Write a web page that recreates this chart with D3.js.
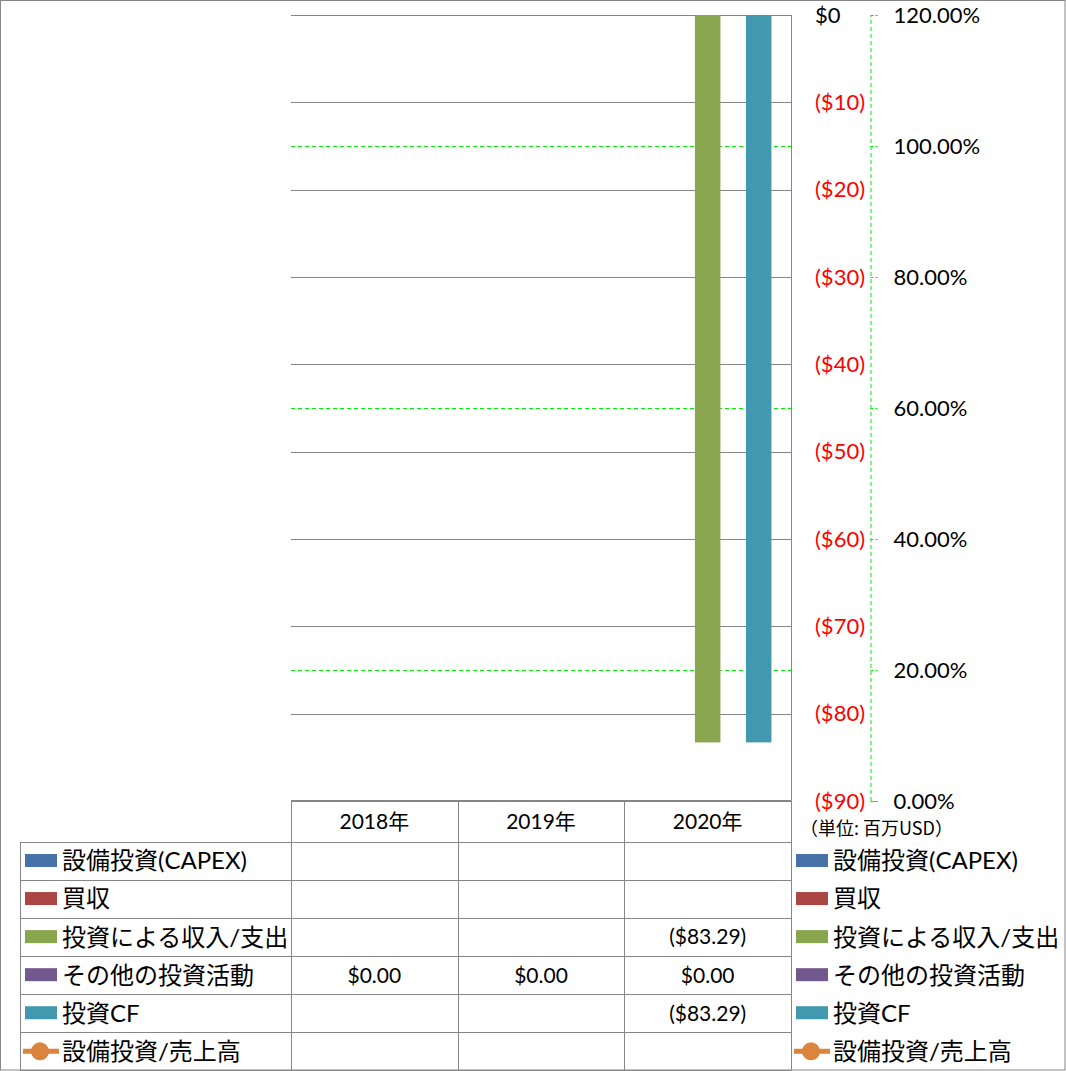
<!DOCTYPE html>
<html>
<head>
<meta charset="utf-8">
<script src="https://cdn.jsdelivr.net/npm/d3@7"></script>
<style>
  body { margin: 0; background: #fff; }
  svg text { font-family: Lato, "Noto Sans CJK JP", sans-serif; }
</style>
</head>
<body>
<div id="chart"></div>
<script>
// data
const categories = ["2018年", "2019年", "2020年"];
const capex = [null, null, null];
const acquisitions = [null, null, null];
const investIncome = [null, null, -83.29];
const otherInvest = [0, 0, 0];
const investCF = [null, null, -83.29];
const capexRatio = [null, null, null];

const seriesNames = ["設備投資(CAPEX)", "買収", "投資による収入/支出", "その他の投資活動", "投資CF", "設備投資/売上高"];
const seriesColors = ["#4672A8", "#AA4643", "#89A54E", "#71588F", "#4198AF", "#DB843D"];

const usdTicks = [0, -10, -20, -30, -40, -50, -60, -70, -80, -90];
const pctTicks = [0, 0.2, 0.4, 0.6, 0.8, 1.0, 1.2];
const unitLabel = "（単位: 百万USD）";

window.onload = function() {
    const W = 1066, H = 1071;
    const plot = { left: 291, right: 791, top: 15, bottom: 801 };
    const rowH = 38.05;
    const headerTop = 800.5;
    const headerBottom = 842;

    const barSeries = [capex, acquisitions, investIncome, otherInvest, investCF];

    const svg = d3.select("#chart").append("svg")
        .attr("width", W)
        .attr("height", H);

    const x = d3.scaleBand()
        .domain(categories)
        .range([plot.left, plot.right]);

    const xs = d3.scaleBand()
        .domain(d3.range(barSeries.length))
        .range([0, x.bandwidth()])
        .paddingOuter(0.768);

    const y = d3.scaleLinear()
        .domain([-90, 0])
        .range([plot.bottom, plot.top]);

    const y2 = d3.scaleLinear()
        .domain([0, 1.2])
        .range([plot.bottom, plot.top]);

    // secondary gridlines (green dashed) beneath
    svg.append("g")
        .selectAll("line")
        .data(pctTicks)
        .enter().append("line")
        .attr("x1", plot.left).attr("x2", plot.right)
        .attr("y1", d => Math.round(y2(d)) + 0.5)
        .attr("y2", d => Math.round(y2(d)) + 0.5)
        .attr("stroke", "#00ee00")
        .attr("stroke-dasharray", "4,3");

    // primary gridlines
    svg.append("g")
        .selectAll("line")
        .data(usdTicks)
        .enter().append("line")
        .attr("x1", plot.left).attr("x2", plot.right)
        .attr("y1", d => Math.round(y(d)) + 0.5)
        .attr("y2", d => Math.round(y(d)) + 0.5)
        .attr("stroke", "#868686");

    // bars
    barSeries.forEach((vals, si) => {
        svg.append("g")
            .attr("fill", seriesColors[si])
            .selectAll("rect")
            .data(vals.map((v, i) => ({ cat: categories[i], v: v })).filter(d => d.v != null))
            .enter().append("rect")
            .attr("x", d => x(d.cat) + xs(si))
            .attr("width", xs.bandwidth())
            .attr("y", d => y(Math.max(0, d.v)))
            .attr("height", d => Math.abs(y(d.v) - y(0)));
    });

    // capex / sales line (no values)
    const line = d3.line()
        .defined(d => d.v != null)
        .x(d => x(d.cat) + x.bandwidth() / 2)
        .y(d => y2(d.v));
    svg.append("path")
        .datum(capexRatio.map((v, i) => ({ cat: categories[i], v: v })))
        .attr("fill", "none")
        .attr("stroke", seriesColors[5])
        .attr("stroke-width", 5)
        .attr("d", line);

    // plot right border
    svg.append("line")
        .attr("x1", plot.right + 0.5).attr("x2", plot.right + 0.5)
        .attr("y1", plot.top).attr("y2", headerTop)
        .attr("stroke", "#868686");

    // primary axis ($)
    const usdFmt = d => d < 0 ? `($${-d})` : `$${d}`;
    const ax1 = svg.append("g")
        .attr("transform", `translate(${plot.right},0)`)
        .call(d3.axisRight(y).tickValues(usdTicks).tickSize(0).tickPadding(24).tickFormat(usdFmt));
    ax1.select(".domain").remove();
    ax1.selectAll("text")
        .style("font-size", "22px")
        .attr("fill", d => d < 0 ? "#ff0000" : "#000");

    // secondary axis (%)
    const ax2 = svg.append("g")
        .attr("transform", `translate(870.5,0)`)
        .call(d3.axisRight(y2).tickValues(pctTicks).tickSize(7).tickPadding(16)
            .tickFormat(d => (d * 100).toFixed(2) + "%"));
    ax2.select(".domain")
        .attr("stroke", "#00ee00")
        .attr("stroke-dasharray", "4,3");
    ax2.selectAll(".tick line")
        .attr("stroke", "#00ee00")
        .attr("stroke-dasharray", "3,2");
    ax2.selectAll("text")
        .style("font-size", "22px")
        .attr("fill", "#000");

    // unit label
    svg.append("text")
        .attr("x", 800)
        .attr("y", 829)
        .attr("dy", "0.35em")
        .style("font-size", "18px")
        .style("font-family", "'Noto Sans CJK JP'")
        .text(unitLabel);

    // data table
    const table = svg.append("g").attr("stroke", "#868686").attr("fill", "none");
    const rowY = i => headerBottom + i * rowH;
    const tableBottom = rowY(seriesNames.length);

    table.append("line")
        .attr("x1", plot.left).attr("x2", plot.right)
        .attr("y1", headerTop).attr("y2", headerTop);
    d3.range(seriesNames.length + 1).forEach(i => {
        table.append("line")
            .attr("x1", 20).attr("x2", plot.right)
            .attr("y1", Math.round(rowY(i)) + 0.5).attr("y2", Math.round(rowY(i)) + 0.5);
    });
    const colEdges = categories.map(c => x(c)).concat([plot.right]);
    colEdges.forEach(cx => {
        table.append("line")
            .attr("x1", Math.round(cx) + 0.5).attr("x2", Math.round(cx) + 0.5)
            .attr("y1", headerTop).attr("y2", tableBottom);
    });
    table.append("line")
        .attr("x1", 20.5).attr("x2", 20.5)
        .attr("y1", headerBottom).attr("y2", tableBottom);

    // header labels
    svg.append("g").selectAll("text")
        .data(categories)
        .enter().append("text")
        .attr("x", d => x(d) + x.bandwidth() / 2)
        .attr("y", (headerTop + headerBottom) / 2)
        .attr("dy", "0.35em")
        .attr("text-anchor", "middle")
        .style("font-size", "21px")
        .text(d => d);

    // table values
    const valFmt = v => v < 0 ? `($${Math.abs(v).toFixed(2)})` : `$${v.toFixed(2)}`;
    const allSeries = barSeries.concat([capexRatio]);
    allSeries.forEach((vals, si) => {
        svg.append("g").selectAll("text")
            .data(vals.map((v, i) => ({ cat: categories[i], v: v })).filter(d => d.v != null))
            .enter().append("text")
            .attr("x", d => x(d.cat) + x.bandwidth() / 2)
            .attr("y", rowY(si) + rowH / 2)
            .attr("dy", "0.35em")
            .attr("text-anchor", "middle")
            .style("font-size", "21px")
            .text(d => valFmt(d.v));
    });

    // legend keys (in table and on the right)
    function drawLegend(x0) {
        const items = svg.append("g").selectAll("g")
            .data(seriesNames)
            .enter().append("g")
            .attr("transform", (d, i) => `translate(${x0},${rowY(i) + rowH / 2})`);
        items.filter((d, i) => i < 5).append("rect")
            .attr("x", 5).attr("y", -7)
            .attr("width", 32).attr("height", 13)
            .attr("fill", (d, i) => seriesColors[i]);
        const lineItem = items.filter((d, i) => i === 5);
        lineItem.append("line")
            .attr("x1", 3).attr("x2", 39)
            .attr("y1", 0).attr("y2", 0)
            .attr("stroke", seriesColors[5])
            .attr("stroke-width", 5);
        lineItem.append("circle")
            .attr("cx", 20).attr("cy", 0).attr("r", 9)
            .attr("fill", seriesColors[5]);
        items.append("text")
            .attr("x", 42)
            .attr("dy", "0.35em")
            .style("font-size", "24px")
            .text(d => d);
    }
    drawLegend(20);
    drawLegend(791);

    // outer border
    svg.append("rect")
        .attr("x", 0.5).attr("y", 0.5)
        .attr("width", W - 1.5).attr("height", H - 1.5)
        .attr("fill", "none")
        .attr("stroke", "#868686");
};
</script>
</body>
</html>
